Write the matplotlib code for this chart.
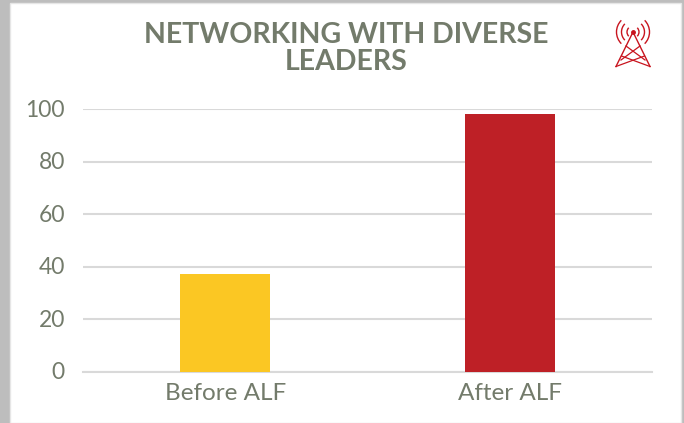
import matplotlib.pyplot as plt
from matplotlib.patches import Arc, Rectangle
from matplotlib.transforms import ScaledTranslation

plt.rcParams['font.family'] = ['Lato', 'DejaVu Sans']

categories = ['Before ALF', 'After ALF']
values = [37, 98]
bar_colors = ['#FBC723', '#BE2026']
y_ticks = [0, 20, 40, 60, 80, 100]
title = 'NETWORKING WITH DIVERSE\nLEADERS'

W, H = 684, 423
text_color = '#737B6B'
grid_color = '#D9D9D9'
icon_color = '#C8141E'

fig = plt.figure(figsize=(W / 100, H / 100), dpi=100, facecolor='#BDBDBD')

# white card, background overlay uses pixel coords from the top left
bg = fig.add_axes([0, 0, 1, 1], zorder=0)
bg.set_xlim(0, W)
bg.set_ylim(H, 0)
bg.axis('off')
bg.add_patch(Rectangle((10, 3), 671, 420, facecolor='white', edgecolor='#E6E6E6', linewidth=1))

# chart
ax = fig.add_axes([83 / W, 1 - 371.5 / H, 569 / W, (371.5 - 109) / H], zorder=1)
ax.patch.set_alpha(0)
ax.bar(range(len(categories)), values, width=0.316, color=bar_colors, zorder=3)
ax.set_xlim(-0.5, 1.5)
ax.set_ylim(0, 100)
ax.set_yticks(y_ticks)
ax.set_xticks(range(len(categories)))
ax.set_xticklabels(categories)
ax.grid(axis='y', color=grid_color, linewidth=1.5, zorder=0)
ax.set_axisbelow(True)
ax.tick_params(axis='both', length=0, labelcolor=text_color)
ax.tick_params(axis='x', labelsize=17.5, pad=8)
ax.tick_params(axis='y', labelsize=16.5, pad=13)
for s in ['top', 'right', 'left']:
    ax.spines[s].set_visible(False)
ax.spines['bottom'].set_color(grid_color)
ax.spines['bottom'].set_linewidth(1.5)

# y labels sit a little above their gridlines in the original
shift = ScaledTranslation(0, 1 / 100, fig.dpi_scale_trans)
for lab in ax.get_yticklabels():
    lab.set_transform(lab.get_transform() + shift)

bg.text(346, 48.5, title, ha='center', va='center', fontsize=20.5, fontweight='bold',
        color=text_color, linespacing=1.08)

# antenna icon
top = (633, 32)
feet = [(616, 66.5), (650, 66.5)]
for foot in feet:
    bg.plot([top[0], foot[0]], [top[1], foot[1]], color=icon_color, lw=1.0, zorder=5)
bg.plot([621.5, 650], [56, 66.5], color=icon_color, lw=0.9, zorder=5)
bg.plot([644.5, 616], [56, 66.5], color=icon_color, lw=0.9, zorder=5)
bg.plot([626, 645], [46, 60], color=icon_color, lw=0.9, zorder=5)
bg.plot([640, 621], [46, 60], color=icon_color, lw=0.9, zorder=5)
bg.plot([top[0]], [top[1]], marker='o', ms=2.5, color=icon_color, zorder=5)
for d in [12, 23, 33]:
    bg.add_patch(Arc(top, d, d, theta1=135, theta2=225, color=icon_color, lw=1.0, zorder=5))
    bg.add_patch(Arc(top, d, d, theta1=-45, theta2=45, color=icon_color, lw=1.0, zorder=5))

fig.savefig('out.png', dpi=100, facecolor=fig.get_facecolor())
